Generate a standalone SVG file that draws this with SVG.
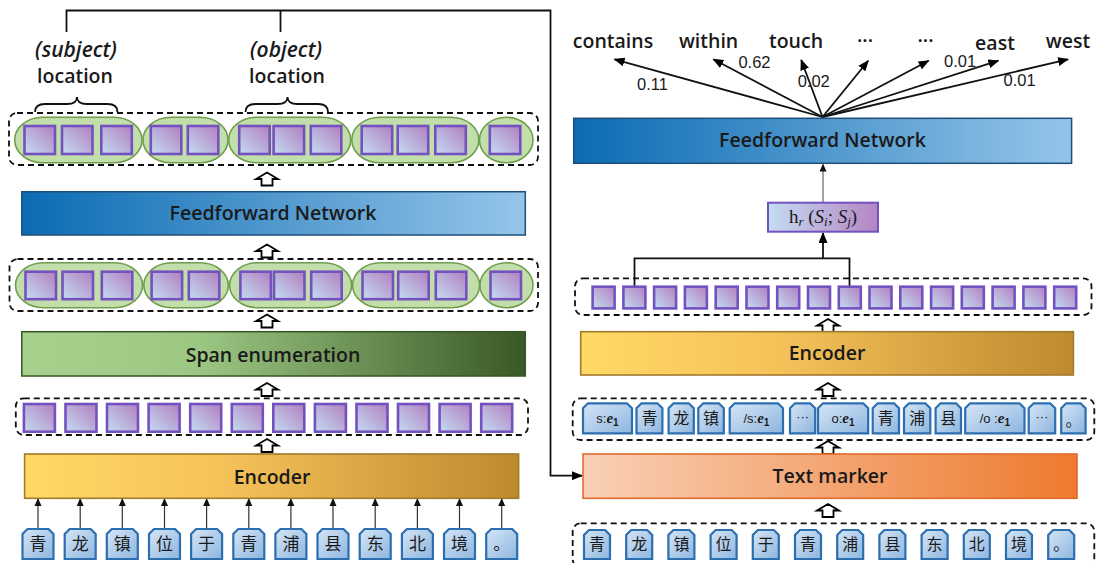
<svg xmlns="http://www.w3.org/2000/svg" width="1097" height="563" viewBox="0 0 1097 563">
<defs>
<linearGradient id="gPur" x1="1" y1="0" x2="0" y2="1"><stop offset="0" stop-color="#b27fc0"/><stop offset="1" stop-color="#c3dcf2"/></linearGradient>
<linearGradient id="gTok" x1="0" y1="0" x2="1" y2="1"><stop offset="0" stop-color="#d6e6f6"/><stop offset="1" stop-color="#8db5df"/></linearGradient>
<linearGradient id="gFFN" x1="0" y1="0" x2="1" y2="0"><stop offset="0" stop-color="#0b6bb3"/><stop offset="1" stop-color="#95c5e9"/></linearGradient>
<linearGradient id="gSpan" x1="0" y1="0" x2="1" y2="0"><stop offset="0" stop-color="#a9d18e"/><stop offset="0.35" stop-color="#9cc783"/><stop offset="1" stop-color="#3a5826"/></linearGradient>
<linearGradient id="gEnc" x1="0" y1="0" x2="1" y2="0"><stop offset="0" stop-color="#ffd966"/><stop offset="0.4" stop-color="#f5c25a"/><stop offset="1" stop-color="#bd8a2e"/></linearGradient>
<linearGradient id="gTM" x1="0" y1="0" x2="1" y2="0"><stop offset="0" stop-color="#f9d0b6"/><stop offset="1" stop-color="#ee7a2e"/></linearGradient>
<linearGradient id="gHr" x1="0" y1="0" x2="1" y2="0"><stop offset="0" stop-color="#c5dcf2"/><stop offset="1" stop-color="#b385c3"/></linearGradient>
<marker id="ah" markerUnits="userSpaceOnUse" markerWidth="11" markerHeight="9" refX="10" refY="4.5" orient="auto"><path d="M0 0 L11 4.5 L0 9 Z" fill="#000"/></marker>
<marker id="ahs" markerUnits="userSpaceOnUse" markerWidth="8" markerHeight="8" refX="7" refY="4" orient="auto"><path d="M0 0.5 L8 4 L0 7.5 Z" fill="#111"/></marker>
<style>
.t{font-family:"Open Sans","Noto Sans","Liberation Sans",sans-serif;font-size:19.5px;font-weight:600;fill:#1a1a1a;text-anchor:middle}
.it{font-family:"Open Sans","Noto Sans","Liberation Sans",sans-serif;font-size:21px;font-weight:600;font-style:italic;fill:#1a1a1a;text-anchor:middle}
.p{font-family:"Liberation Sans",Arial,sans-serif;font-size:16.5px;fill:#1a1a1a}
.cj{font-family:"Noto Sans CJK SC","Noto Sans",sans-serif;font-size:17px;fill:#1a1a1a;text-anchor:middle}
.cjs{font-family:"Noto Sans CJK SC","Noto Sans",sans-serif;font-size:16px;fill:#1a1a1a;text-anchor:middle}
.mk{font-family:"Liberation Sans","Noto Sans",sans-serif;font-size:13px;fill:#1a1a1a;text-anchor:middle}
.dash{fill:none;stroke:#111;stroke-width:1.8;stroke-dasharray:6 4}
.sq{fill:url(#gPur);stroke:#7352c0;stroke-width:2.6}
.st{fill:#c2dfab;stroke:#6f9e4e;stroke-width:1.6}
.tok{fill:url(#gTok);stroke:#2c6fb0;stroke-width:2.2}
.ha{fill:#fff;stroke:#000;stroke-width:1.8;stroke-linejoin:miter}
.ln{fill:none;stroke:#111;stroke-width:1.8}
.ta{fill:none;stroke:#333;stroke-width:1.2}
</style>
</defs>
<rect width="1097" height="563" fill="#fff"/>

<g id="connectors">
<path class="ln" d="M66.5 32 V10.5 H550.5 V475.7 H582" marker-end="url(#ah)"/>
<path class="ln" d="M280.5 10.5 V32"/>
<path class="ln" d="M634.5 287 V258.3 H849.5 V287"/>
<path class="ln" d="M823 258.3 V233" marker-end="url(#ah)"/>
<path fill="none" stroke="#555" stroke-width="1.1" d="M823 202.7 V164.5" marker-end="url(#ahs)"/>
<g class="ln">
<path d="M822.5 117 L614.5 59.3" marker-end="url(#ah)"/>
<path d="M822.5 117 L713.3 59.3" marker-end="url(#ah)"/>
<path d="M822.5 117 L801.2 60" marker-end="url(#ah)"/>
<path d="M822.5 117 L868.2 60.7" marker-end="url(#ah)"/>
<path d="M822.5 117 L928.6 60.7" marker-end="url(#ah)"/>
<path d="M822.5 117 L998.4 60.7" marker-end="url(#ah)"/>
<path d="M822.5 117 L1068 59.3" marker-end="url(#ah)"/>
</g>
<g class="ta">
<path d="M38 529 V499" marker-end="url(#ahs)"/>
<path d="M80.2 529 V499" marker-end="url(#ahs)"/>
<path d="M122.3 529 V499" marker-end="url(#ahs)"/>
<path d="M164.5 529 V499" marker-end="url(#ahs)"/>
<path d="M206.6 529 V499" marker-end="url(#ahs)"/>
<path d="M248.8 529 V499" marker-end="url(#ahs)"/>
<path d="M290.9 529 V499" marker-end="url(#ahs)"/>
<path d="M333 529 V499" marker-end="url(#ahs)"/>
<path d="M375.2 529 V499" marker-end="url(#ahs)"/>
<path d="M417.4 529 V499" marker-end="url(#ahs)"/>
<path d="M459.5 529 V499" marker-end="url(#ahs)"/>
<path d="M501.7 529 V499" marker-end="url(#ahs)"/>
</g>
<g class="ha">
<path d="M267 172.5 l11 6.5 h-5.5 v6.5 h-11 v-6.5 h-5.5 z"/>
<path d="M267 244.5 l11 6.5 h-5.5 v6.5 h-11 v-6.5 h-5.5 z"/>
<path d="M267 314.5 l11 6.5 h-5.5 v6.5 h-11 v-6.5 h-5.5 z"/>
<path d="M267 383 l11 6.5 h-5.5 v6.5 h-11 v-6.5 h-5.5 z"/>
<path d="M267 439 l11 6.5 h-5.5 v6.5 h-11 v-6.5 h-5.5 z"/>
<path d="M828 319 l11 6.5 h-5.5 v6.5 h-11 v-6.5 h-5.5 z"/>
<path d="M828 383 l11 6.5 h-5.5 v6.5 h-11 v-6.5 h-5.5 z"/>
<path d="M828 441 l11 6.5 h-5.5 v6.5 h-11 v-6.5 h-5.5 z"/>
<path d="M828 504 l11 6.5 h-5.5 v6.5 h-11 v-6.5 h-5.5 z"/>
</g>
</g>

<g id="subject-label">
<text class="it" x="76" y="57">(subject)</text>
<text class="t" x="75" y="83">location</text>
<path class="ln" d="M35 112 Q35 104 45 104 H67 Q77 104 77 97 Q77 104 87 104 H107.5 Q117.5 104 117.5 112"/>
</g>
<g id="object-label">
<text class="it" x="286" y="57">(object)</text>
<text class="t" x="287" y="83">location</text>
<path class="ln" d="M245.5 112 Q245.5 104 255.5 104 H277.5 Q287.5 104 287.5 97 Q287.5 104 297.5 104 H318 Q328 104 328 112"/>
</g>

<g id="span-reprs-top">
<rect class="dash" x="9" y="113" width="529" height="52" rx="8"/>
<rect class="st" x="14.7" y="117.3" width="127.3" height="45.4" rx="28" ry="22.7"/>
<rect class="st" x="143" y="117.3" width="85" height="45.4" rx="28" ry="22.7"/>
<rect class="st" x="228.7" y="117.3" width="122" height="45.4" rx="28" ry="22.7"/>
<rect class="st" x="351.8" y="117.3" width="127" height="45.4" rx="28" ry="22.7"/>
<rect class="st" x="479.5" y="117.3" width="53.5" height="45.4" rx="26.7" ry="22.7"/>
<rect class="sq" x="24.5" y="126" width="30.5" height="28"/>
<rect class="sq" x="62" y="126" width="30.5" height="28"/>
<rect class="sq" x="101.3" y="126" width="30.5" height="28"/>
<rect class="sq" x="150.8" y="126" width="30.5" height="28"/>
<rect class="sq" x="187.8" y="126" width="30.5" height="28"/>
<rect class="sq" x="239.2" y="126" width="30.5" height="28"/>
<rect class="sq" x="273.6" y="126" width="30.5" height="28"/>
<rect class="sq" x="310.8" y="126" width="30.5" height="28"/>
<rect class="sq" x="361.7" y="126" width="30.5" height="28"/>
<rect class="sq" x="397.7" y="126" width="30.5" height="28"/>
<rect class="sq" x="435.3" y="126" width="30.5" height="28"/>
<rect class="sq" x="489.8" y="126" width="30.5" height="28"/>
</g>

<g id="left-ffn">
<rect x="21.8" y="191.7" width="503.5" height="43.3" fill="url(#gFFN)" stroke="#1f4e79" stroke-width="1.5"/>
<text class="t" x="273" y="220">Feedforward Network</text>
</g>

<g id="span-reprs">
<rect class="dash" x="9.5" y="259" width="528.5" height="52" rx="8"/>
<rect class="st" x="15.5" y="262.7" width="127" height="45" rx="28" ry="22.5"/>
<rect class="st" x="143.8" y="262.7" width="84.5" height="45" rx="28" ry="22.5"/>
<rect class="st" x="229.6" y="262.7" width="122" height="45" rx="28" ry="22.5"/>
<rect class="st" x="352.6" y="262.7" width="127" height="45" rx="28" ry="22.5"/>
<rect class="st" x="480" y="262.7" width="53" height="45" rx="26.5" ry="22.5"/>
<rect class="sq" x="25.5" y="271.7" width="30.5" height="27.5"/>
<rect class="sq" x="62.5" y="271.7" width="30.5" height="27.5"/>
<rect class="sq" x="101.8" y="271.7" width="30.5" height="27.5"/>
<rect class="sq" x="151.6" y="271.7" width="30.5" height="27.5"/>
<rect class="sq" x="188.8" y="271.7" width="30.5" height="27.5"/>
<rect class="sq" x="240.4" y="271.7" width="30.5" height="27.5"/>
<rect class="sq" x="274" y="271.7" width="30.5" height="27.5"/>
<rect class="sq" x="311.2" y="271.7" width="30.5" height="27.5"/>
<rect class="sq" x="362.5" y="271.7" width="30.5" height="27.5"/>
<rect class="sq" x="398.2" y="271.7" width="30.5" height="27.5"/>
<rect class="sq" x="435.8" y="271.7" width="30.5" height="27.5"/>
<rect class="sq" x="490.5" y="271.7" width="30.5" height="27.5"/>
</g>

<g id="span-enumeration">
<rect x="21.8" y="331.7" width="503.5" height="44.3" fill="url(#gSpan)" stroke="#375623" stroke-width="1.5"/>
<text class="t" x="273" y="361.5">Span enumeration</text>
</g>

<g id="left-embeddings">
<rect class="dash" x="15.8" y="398.3" width="512.2" height="36.7" rx="8"/>
<rect class="sq" x="23.9" y="404" width="31" height="27.7"/>
<rect class="sq" x="65.5" y="404" width="31" height="27.7"/>
<rect class="sq" x="107" y="404" width="31" height="27.7"/>
<rect class="sq" x="148.6" y="404" width="31" height="27.7"/>
<rect class="sq" x="190.2" y="404" width="31" height="27.7"/>
<rect class="sq" x="231.8" y="404" width="31" height="27.7"/>
<rect class="sq" x="273.3" y="404" width="31" height="27.7"/>
<rect class="sq" x="314.9" y="404" width="31" height="27.7"/>
<rect class="sq" x="356.5" y="404" width="31" height="27.7"/>
<rect class="sq" x="398" y="404" width="31" height="27.7"/>
<rect class="sq" x="439.6" y="404" width="31" height="27.7"/>
<rect class="sq" x="481.2" y="404" width="31" height="27.7"/>
</g>

<g id="left-encoder">
<rect x="24.6" y="454" width="494" height="44.3" fill="url(#gEnc)" stroke="#a27a2c" stroke-width="1.6"/>
<text class="t" x="272" y="483.5">Encoder</text>
</g>

<g id="left-tokens">
<path class="tok" d="M22.5 559 v-25 l5 -5 h21 l5 5 v25 z"/><text class="cj" x="38" y="550">青</text>
<path class="tok" d="M64.7 559 v-25 l5 -5 h21 l5 5 v25 z"/><text class="cj" x="80.2" y="550">龙</text>
<path class="tok" d="M106.8 559 v-25 l5 -5 h21 l5 5 v25 z"/><text class="cj" x="122.3" y="550">镇</text>
<path class="tok" d="M149 559 v-25 l5 -5 h21 l5 5 v25 z"/><text class="cj" x="164.5" y="550">位</text>
<path class="tok" d="M191.1 559 v-25 l5 -5 h21 l5 5 v25 z"/><text class="cj" x="206.6" y="550">于</text>
<path class="tok" d="M233.3 559 v-25 l5 -5 h21 l5 5 v25 z"/><text class="cj" x="248.8" y="550">青</text>
<path class="tok" d="M275.4 559 v-25 l5 -5 h21 l5 5 v25 z"/><text class="cj" x="290.9" y="550">浦</text>
<path class="tok" d="M317.5 559 v-25 l5 -5 h21 l5 5 v25 z"/><text class="cj" x="333" y="550">县</text>
<path class="tok" d="M359.7 559 v-25 l5 -5 h21 l5 5 v25 z"/><text class="cj" x="375.2" y="550">东</text>
<path class="tok" d="M401.9 559 v-25 l5 -5 h21 l5 5 v25 z"/><text class="cj" x="417.4" y="550">北</text>
<path class="tok" d="M444 559 v-25 l5 -5 h21 l5 5 v25 z"/><text class="cj" x="459.5" y="550">境</text>
<path class="tok" d="M486.2 559 v-25 l5 -5 h21 l5 5 v25 z"/><text class="cj" x="501.7" y="550">。</text>
</g>

<g id="relation-labels">
<text class="t" x="613" y="48">contains</text>
<text class="t" x="708.6" y="48">within</text>
<text class="t" x="796" y="48">touch</text>
<text class="t" x="865" y="48">···</text>
<text class="t" x="925.5" y="48">···</text>
<text class="t" x="995" y="50">east</text>
<text class="t" x="1068" y="48">west</text>
<text class="p" x="637" y="90">0.11</text>
<text class="p" x="738.4" y="68.3">0.62</text>
<text class="p" x="797.7" y="87.3">0.02</text>
<text class="p" x="944" y="66.7">0.01</text>
<text class="p" x="1003.6" y="86">0.01</text>
</g>

<g id="right-ffn">
<rect x="573.7" y="118.3" width="497.9" height="45" fill="url(#gFFN)" stroke="#1f4e79" stroke-width="1.5"/>
<text class="t" x="822.5" y="147">Feedforward Network</text>
</g>

<g id="hr">
<rect x="768" y="202.7" width="110" height="29" fill="url(#gHr)" stroke="#7352c0" stroke-width="2"/>
<text x="823" y="223" font-family="Liberation Serif,serif" font-size="19" fill="#1a1a1a" text-anchor="middle">h<tspan font-style="italic" font-size="13" dy="3">r</tspan><tspan dy="-3"> (</tspan><tspan font-style="italic">S</tspan><tspan font-style="italic" font-size="13" dy="3">i</tspan><tspan dy="-3">; </tspan><tspan font-style="italic">S</tspan><tspan font-style="italic" font-size="13" dy="3">j</tspan><tspan dy="-3">)</tspan></text>
</g>

<g id="right-embeddings">
<rect class="dash" x="575" y="278.3" width="516.5" height="36.7" rx="8"/>
<rect class="sq" x="592.6" y="286.7" width="22" height="21.7"/>
<rect class="sq" x="623.4" y="286.7" width="22" height="21.7"/>
<rect class="sq" x="654.1" y="286.7" width="22" height="21.7"/>
<rect class="sq" x="684.9" y="286.7" width="22" height="21.7"/>
<rect class="sq" x="715.7" y="286.7" width="22" height="21.7"/>
<rect class="sq" x="746.5" y="286.7" width="22" height="21.7"/>
<rect class="sq" x="777.2" y="286.7" width="22" height="21.7"/>
<rect class="sq" x="808" y="286.7" width="22" height="21.7"/>
<rect class="sq" x="838.8" y="286.7" width="22" height="21.7"/>
<rect class="sq" x="869.5" y="286.7" width="22" height="21.7"/>
<rect class="sq" x="900.3" y="286.7" width="22" height="21.7"/>
<rect class="sq" x="931.1" y="286.7" width="22" height="21.7"/>
<rect class="sq" x="961.8" y="286.7" width="22" height="21.7"/>
<rect class="sq" x="992.6" y="286.7" width="22" height="21.7"/>
<rect class="sq" x="1023.4" y="286.7" width="22" height="21.7"/>
<rect class="sq" x="1054.2" y="286.7" width="22" height="21.7"/>
</g>

<g id="right-encoder">
<rect x="580.7" y="331.7" width="492.7" height="43.3" fill="url(#gEnc)" stroke="#a27a2c" stroke-width="1.6"/>
<text class="t" x="827" y="360">Encoder</text>
</g>

<g id="marked-tokens">
<rect class="dash" x="572.7" y="398.3" width="521.6" height="41.7" rx="8"/>
<path class="tok" d="M583 433.3 v-25 l5 -5 h39 l5 5 v25 z"/>
<text class="mk" x="607.5" y="423">s:<tspan font-family="Liberation Serif,serif" font-style="italic" font-weight="bold" font-size="15">e</tspan><tspan font-size="10" font-weight="bold" dy="3">1</tspan></text>
<path class="tok" d="M636.5 433.3 v-25 l5 -5 h15.9 l5 5 v25 z"/><text class="cjs" x="649.5" y="424">青</text>
<path class="tok" d="M668.6 433.3 v-25 l5 -5 h15.2 l5 5 v25 z"/><text class="cjs" x="681.2" y="424">龙</text>
<path class="tok" d="M698.3 433.3 v-25 l5 -5 h15.5 l5 5 v25 z"/><text class="cjs" x="711" y="424">镇</text>
<path class="tok" d="M729.7 433.3 v-25 l5 -5 h43.3 l5 5 v25 z"/>
<text class="mk" x="756.4" y="423">/s:<tspan font-family="Liberation Serif,serif" font-style="italic" font-weight="bold" font-size="15">e</tspan><tspan font-size="10" font-weight="bold" dy="3">1</tspan></text>
<path class="tok" d="M790 433.3 v-25 l5 -5 h15.2 l5 5 v25 z"/><text class="mk" x="802.6" y="421">···</text>
<path class="tok" d="M818 433.3 v-25 l5 -5 h40.2 l5 5 v25 z"/>
<text class="mk" x="843" y="423">o:<tspan font-family="Liberation Serif,serif" font-style="italic" font-weight="bold" font-size="15">e</tspan><tspan font-size="10" font-weight="bold" dy="3">1</tspan></text>
<path class="tok" d="M872.7 433.3 v-25 l5 -5 h16.3 l5 5 v25 z"/><text class="cjs" x="885.8" y="424">青</text>
<path class="tok" d="M904 433.3 v-25 l5 -5 h16.3 l5 5 v25 z"/><text class="cjs" x="917.2" y="424">浦</text>
<path class="tok" d="M935.6 433.3 v-25 l5 -5 h15.4 l5 5 v25 z"/><text class="cjs" x="948.3" y="424">县</text>
<path class="tok" d="M965.2 433.3 v-25 l5 -5 h49.3 l5 5 v25 z"/>
<text class="mk" x="994.8" y="423">/o :<tspan font-family="Liberation Serif,serif" font-style="italic" font-weight="bold" font-size="15">e</tspan><tspan font-size="10" font-weight="bold" dy="3">1</tspan></text>
<path class="tok" d="M1028.7 433.3 v-25 l5 -5 h16.5 l5 5 v25 z"/><text class="mk" x="1042" y="421">···</text>
<path class="tok" d="M1061.2 433.3 v-25 l5 -5 h14.4 l5 5 v25 z"/><text class="cjs" x="1073.4" y="426">。</text>
</g>

<g id="text-marker">
<rect x="583" y="454" width="494" height="44.3" fill="url(#gTM)" stroke="#e06a2c" stroke-width="1.6"/>
<text class="t" x="830" y="483">Text marker</text>
</g>

<g id="right-tokens">
<rect class="dash" x="572.7" y="523.3" width="521.6" height="44" rx="8"/>
<path class="tok" d="M584 559 v-24 l5 -5 h16 l5 5 v24 z"/><text class="cjs" x="597" y="550">青</text>
<path class="tok" d="M626.2 559 v-24 l5 -5 h16 l5 5 v24 z"/><text class="cjs" x="639.2" y="550">龙</text>
<path class="tok" d="M668.4 559 v-24 l5 -5 h16 l5 5 v24 z"/><text class="cjs" x="681.4" y="550">镇</text>
<path class="tok" d="M710.6 559 v-24 l5 -5 h16 l5 5 v24 z"/><text class="cjs" x="723.6" y="550">位</text>
<path class="tok" d="M752.8 559 v-24 l5 -5 h16 l5 5 v24 z"/><text class="cjs" x="765.8" y="550">于</text>
<path class="tok" d="M795 559 v-24 l5 -5 h16 l5 5 v24 z"/><text class="cjs" x="808" y="550">青</text>
<path class="tok" d="M837.2 559 v-24 l5 -5 h16 l5 5 v24 z"/><text class="cjs" x="850.2" y="550">浦</text>
<path class="tok" d="M879.4 559 v-24 l5 -5 h16 l5 5 v24 z"/><text class="cjs" x="892.4" y="550">县</text>
<path class="tok" d="M921.6 559 v-24 l5 -5 h16 l5 5 v24 z"/><text class="cjs" x="934.6" y="550">东</text>
<path class="tok" d="M963.8 559 v-24 l5 -5 h16 l5 5 v24 z"/><text class="cjs" x="976.8" y="550">北</text>
<path class="tok" d="M1006 559 v-24 l5 -5 h16 l5 5 v24 z"/><text class="cjs" x="1019" y="550">境</text>
<path class="tok" d="M1048.2 559 v-24 l5 -5 h16 l5 5 v24 z"/><text class="cjs" x="1061.2" y="550">。</text>
</g>
</svg>
